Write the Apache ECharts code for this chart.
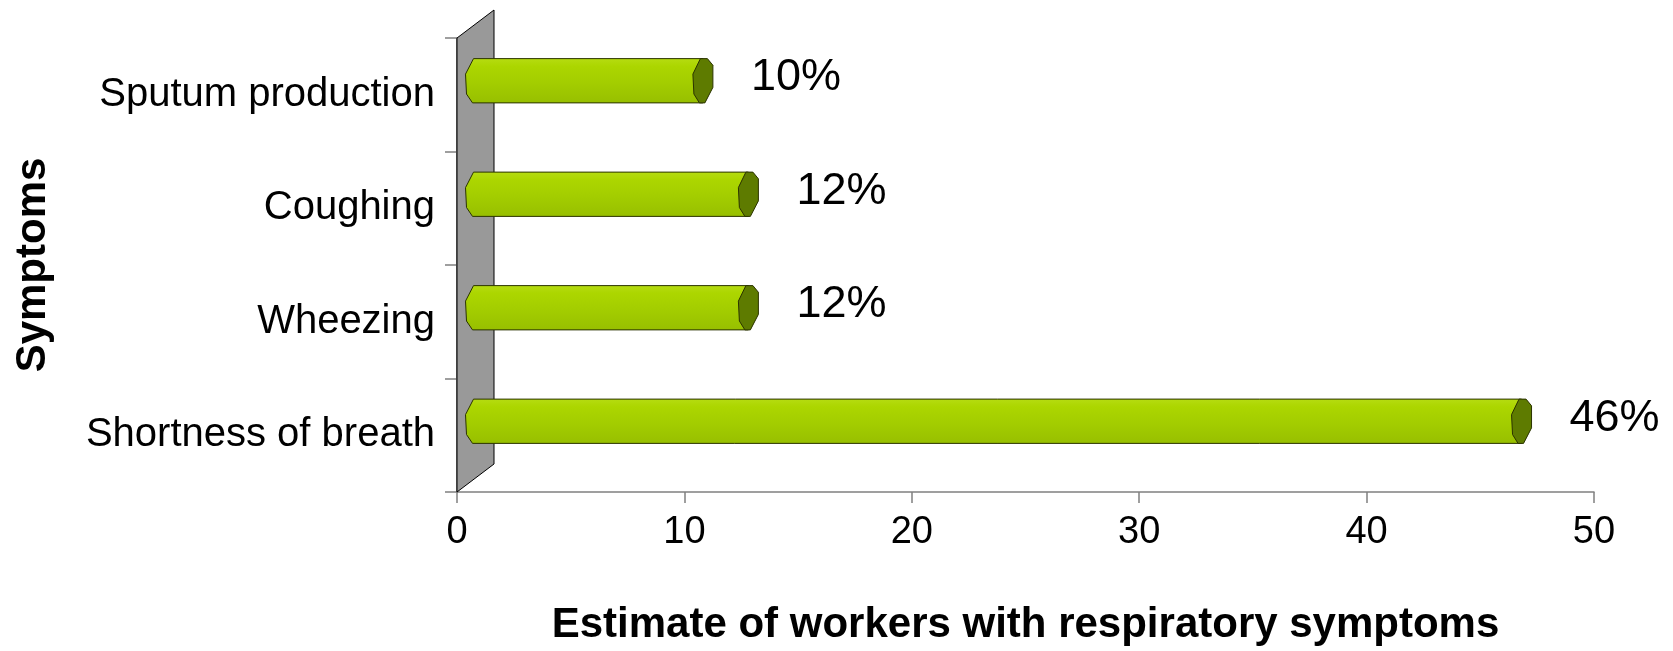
<!DOCTYPE html>
<html>
<head>
<meta charset="utf-8">
<script src="https://cdn.jsdelivr.net/npm/echarts@6/dist/echarts.min.js"></script>
<style>
    html, body { margin: 0; padding: 0; background: #fff; }
    #chart { width: 1673px; height: 651px; }
</style>
</head>
<body>
<div id="chart"></div>
<script>
// data (bottom to top)
var categories = ['Shortness of breath', 'Wheezing', 'Coughing', 'Sputum production'];
var values = [46, 12, 12, 10];
var valueLabels = ['46%', '12%', '12%', '10%'];
var xTicks = [0, 10, 20, 30, 40, 50];

var myChart = echarts.init(document.getElementById('chart'));
var FONT = '"Liberation Sans", Arial, sans-serif';

// fake 3d depth, in pixels
var DX = 37, DY = -28;

// end cap of a bar, slightly tilted
function capShape(cx, cy, hw, hh) {
    var p = [[-0.25, -1], [0.45, -1], [1, -0.7], [1, 0.3], [0.2, 1], [-0.35, 1], [-0.9, 0.6], [-1, -0.3]];
    return p.map(function(q) { return [cx + q[0] * hw, cy + q[1] * hh]; });
}

function renderWall(params, api) {
    var cs = params.coordSys;
    var x0 = cs.x, top = cs.y, bottom = cs.y + cs.height;
    return {
        type: 'polygon',
        shape: { points: [[x0, bottom], [x0, top], [x0 + DX, top + DY], [x0 + DX, bottom + DY]] },
        style: { fill: '#999999', stroke: '#000', lineWidth: 1 }
    };
}

function renderBar(params, api) {
    var idx = api.value(1);
    var start = api.coord([0, idx]);
    var end = api.coord([api.value(0), idx]);
    var bandH = api.size([0, 1])[1];
    var hh = bandH * 0.195;
    var hw = 10;
    var cy = start[1] + DY / 2;
    var x0 = start[0] + DX / 2;
    var x1 = end[0] + DX / 2;
    return {
        type: 'group',
        children: [{
            type: 'polygon',
            shape: { points: [
                [x0 - 0.2 * hw, cy - hh], [x1, cy - hh], [x1, cy + hh], [x0 - 0.3 * hw, cy + hh],
                [x0 - 0.9 * hw, cy + 0.6 * hh], [x0 - hw, cy - 0.3 * hh]
            ] },
            style: {
                fill: new echarts.graphic.LinearGradient(0, 0, 0, 1, [
                    { offset: 0, color: '#b6dc12' },
                    { offset: 0.18, color: '#acd600' },
                    { offset: 0.55, color: '#a3cd00' },
                    { offset: 1, color: '#97bf00' }
                ]),
                stroke: '#2b3300',
                lineWidth: 1
            }
        }, {
            type: 'polygon',
            shape: { points: capShape(x1, cy, hw, hh) },
            style: { fill: '#5e7b00', stroke: '#2b3300', lineWidth: 1 }
        }, {
            type: 'text',
            x: x1 + hw + 38,
            y: cy - 3,
            style: {
                text: valueLabels[params.dataIndex],
                fontSize: 45,
                fontFamily: FONT,
                fill: '#000',
                verticalAlign: 'middle',
                align: 'left'
            }
        }]
    };
}

var option = {
    animation: false,
    backgroundColor: '#fff',
    grid: { left: 457, right: 79, top: 38, bottom: 157 },
    xAxis: {
        type: 'value',
        min: 0,
        max: 50,
        interval: 10,
        name: 'Estimate of workers with respiratory symptoms',
        nameLocation: 'middle',
        nameGap: 112,
        nameTextStyle: { fontSize: 42, fontWeight: 'bold', fontFamily: FONT, color: '#000' },
        axisLine: { show: true, lineStyle: { color: '#808080', width: 1.5 } },
        axisTick: { show: true, length: 11, lineStyle: { color: '#808080', width: 1.5 } },
        axisLabel: {
            fontSize: 38, fontFamily: FONT, color: '#000', margin: 22,
            formatter: function(v) { return xTicks.indexOf(v) >= 0 ? String(v) : ''; }
        },
        splitLine: { show: false }
    },
    yAxis: {
        type: 'category',
        data: categories,
        name: 'Symptoms',
        nameLocation: 'middle',
        nameRotate: 90,
        nameGap: 403,
        nameTextStyle: { fontSize: 42, fontWeight: 'bold', fontFamily: FONT, color: '#000' },
        axisLine: { show: true, lineStyle: { color: '#555', width: 1.5 } },
        axisTick: { show: true, length: 12, alignWithLabel: false, lineStyle: { color: '#808080', width: 1.5 } },
        axisLabel: { fontSize: 40, fontFamily: FONT, color: '#000', margin: 22 }
    },
    series: [{
        type: 'custom',
        z: 1,
        renderItem: renderWall,
        encode: { x: 0, y: 1 },
        data: [[0, 0]],
        silent: true
    }, {
        type: 'custom',
        z: 3,
        renderItem: renderBar,
        encode: { x: 0, y: 1 },
        data: values.map(function(v, i) { return [v, i]; })
    }]
};

myChart.setOption(option);
window.onresize = function() { myChart.resize(); };
</script>
</body>
</html>
